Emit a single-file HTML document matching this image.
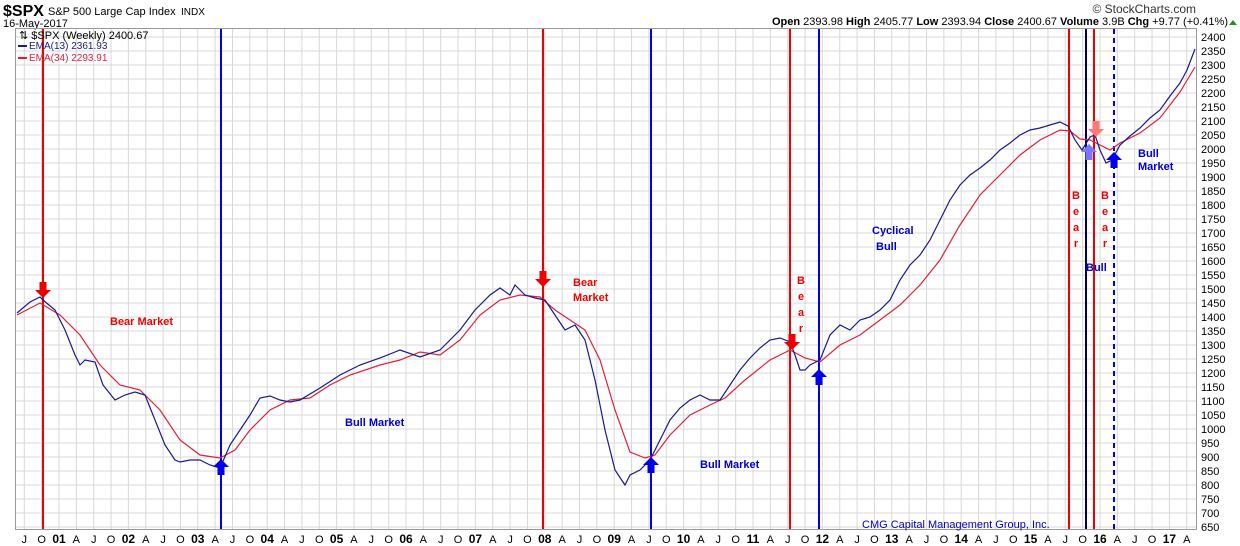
<!DOCTYPE html>
<html><head><meta charset="utf-8"><style>
body{margin:0;background:#fff;width:1240px;height:546px;overflow:hidden;font-family:"Liberation Sans",sans-serif}
svg{display:block}
</style></head><body>
<svg id="s" width="1240" height="546" xmlns="http://www.w3.org/2000/svg" font-family="Liberation Sans, sans-serif">
<text x="3" y="16" font-size="16" font-weight="bold">$SPX</text>
<text x="48" y="15" font-size="11">S&amp;P 500 Large Cap Index</text>
<text x="181" y="15" font-size="10">INDX</text>
<text x="3" y="27" font-size="11">16-May-2017</text>
<text x="1196" y="13" font-size="12" text-anchor="end" fill="#333">© StockCharts.com</text>
<text x="1228" y="25" font-size="11" text-anchor="end"><tspan font-weight="bold">Open</tspan> 2393.98  <tspan font-weight="bold">High</tspan> 2405.77  <tspan font-weight="bold">Low</tspan> 2393.94  <tspan font-weight="bold">Close</tspan> 2400.67  <tspan font-weight="bold">Volume</tspan> 3.9B  <tspan font-weight="bold">Chg</tspan> +9.77 (+0.41%)</text>
<polygon points="1229,25 1237,25 1233,20" fill="#2a8a2a"/>
<g id="grid"></g>
<rect x="15.5" y="28.5" width="1181" height="501" fill="none" stroke="#999"/>
<g id="vl"></g>
<polyline id="red" fill="none" stroke="#e0203a" stroke-width="1.2"/>
<polyline id="blue" fill="none" stroke="#1a1a8c" stroke-width="1.2"/>
<g id="ar"></g>
<text x="19" y="39" font-size="11">⇅ $SPX (Weekly) 2400.67</text>
<line x1="18" y1="46" x2="27" y2="46" stroke="#1a1a8c" stroke-width="2"/><text x="29" y="49" font-size="10" fill="#1a1a8c">EMA(13) 2361.93</text>
<line x1="18" y1="58" x2="27" y2="58" stroke="#e0203a" stroke-width="2"/><text x="29" y="61" font-size="10" fill="#e0203a">EMA(34) 2293.91</text>
<g font-size="11" font-weight="bold">
<text x="110" y="325" fill="#e00">Bear Market</text>
<text x="345" y="426" fill="#00c">Bull Market</text>
<text x="573" y="286" fill="#e00">Bear</text><text x="573" y="301" fill="#e00">Market</text>
<text x="700" y="468" fill="#00c">Bull Market</text>
<text x="872" y="234" fill="#00c">Cyclical</text><text x="876" y="250" fill="#00c">Bull</text>
<text x="1086" y="271" fill="#00c">Bull</text>
<text x="1138" y="157" fill="#00c">Bull</text><text x="1138" y="170" fill="#00c">Market</text>
<g fill="#e00" text-anchor="middle">
<text x="801" y="284">B</text><text x="801" y="300">e</text><text x="801" y="316">a</text><text x="801" y="332">r</text>
<text x="1076" y="199">B</text><text x="1076" y="215">e</text><text x="1076" y="231">a</text><text x="1076" y="247">r</text>
<text x="1105" y="199">B</text><text x="1105" y="215">e</text><text x="1105" y="231">a</text><text x="1105" y="247">r</text>
</g></g>
<text x="862" y="528" font-size="11" fill="#00c">CMG Capital Management Group, Inc.</text>
<g id="lab" font-size="11"></g>
</svg>
<script>
const NS="http://www.w3.org/2000/svg";
function el(p,t,a,tx){const e=document.createElementNS(NS,t);for(const k in a)e.setAttribute(k,a[k]);if(tx!==undefined)e.textContent=tx;document.getElementById(p).appendChild(e);return e;}
const Y=v=>37+(2400-v)/50*14;
for(let v=650;v<=2400;v+=50){const y=Y(v);el('grid','line',{x1:15,x2:1197,y1:y,y2:y,stroke:'#d8d8d8'});el('lab','text',{x:1201,y:y+4},v);}
const X=yr=>59+(yr-2001)*69.4;
const ql=['A','J','O'];
for(let yr=2000;yr<=2017;yr++){for(let q=0;q<4;q++){const x=X(yr+q*0.25);if(x<16||x>1196)continue;
el('grid','line',{x1:x,x2:x,y1:29,y2:529,stroke:'#d8d8d8'});
const lb=q==0?String(yr%100).padStart(2,'0'):ql[q-1];
el('lab','text',{x:x,y:543,'text-anchor':'middle','font-weight':q==0?'bold':'normal','font-size':q==0?12:11},lb);}}
const vls=[[43,'#e00'],[543,'#e00'],[790,'#e00'],[1069,'#e00'],[1094,'#e00'],[221,'#00e'],[651,'#00e'],[819,'#00e'],[1086,'#000060']];
vls.forEach(([x,c])=>el('vl','line',{x1:x,x2:x,y1:29,y2:529,stroke:c,'stroke-width':2}));
el('vl','line',{x1:1114,x2:1114,y1:29,y2:529,stroke:'#00e','stroke-width':2,'stroke-dasharray':'5,4'});
const blue=[[17,313],[30,302],[40,297],[43,300],[55,310],[65,330],[75,355],[80,365],[85,360],[95,362],[103,385],[115,400],[125,395],[135,392],[145,395],[155,420],[165,445],[175,460],[180,462],[190,460],[200,460],[210,465],[220,468],[230,445],[240,430],[250,415],[260,398],[270,396],[280,400],[290,402],[300,400],[320,388],[340,375],[360,365],[380,358],[400,350],[420,357],[440,350],[460,330],[475,310],[490,295],[500,288],[510,295],[515,285],[525,295],[535,298],[545,300],[555,315],[565,330],[575,325],[585,340],[595,380],[605,430],[615,470],[625,485],[630,475],[640,470],[650,460],[660,440],[670,420],[680,408],[690,400],[700,395],[710,400],[720,400],[730,385],[740,370],[750,358],[760,348],[770,340],[780,338],[790,342],[795,355],[800,370],[805,370],[810,365],[820,360],[830,335],[840,325],[850,330],[860,320],[870,317],[880,310],[890,300],[900,280],[910,265],[920,255],[930,240],[940,220],[950,200],[960,185],[970,175],[980,168],[990,160],[1000,150],[1010,143],[1020,135],[1030,130],[1040,128],[1050,125],[1060,122],[1068,126],[1075,140],[1082,150],[1090,137],[1095,135],[1100,150],[1106,163],[1112,160],[1120,145],[1130,136],[1140,128],[1150,118],[1160,110],[1170,96],[1180,83],[1187,70],[1195,49]];
const red=[[17,315],[40,303],[60,315],[80,335],[100,365],[120,385],[140,390],[160,410],[180,440],[200,455],[220,458],[235,450],[250,430],[270,410],[290,400],[310,398],[330,385],[350,375],[380,365],[400,360],[420,352],[440,355],[460,340],[480,315],[500,300],[520,295],[540,297],[555,310],[570,320],[585,330],[600,360],[615,410],[630,452],[645,458],[655,455],[670,435],[690,415],[710,405],[725,398],[745,380],[770,360],[790,350],[805,358],[820,362],[840,345],[860,335],[880,320],[900,305],[920,285],[940,260],[960,225],[980,195],[1000,175],[1020,155],[1040,140],[1060,130],[1070,131],[1080,139],[1090,140],[1100,145],[1110,150],[1120,143],[1140,133],[1160,118],[1180,92],[1195,67]];
document.getElementById('blue').setAttribute('points',blue.map(p=>p.join(',')).join(' '));
document.getElementById('red').setAttribute('points',red.map(p=>p.join(',')).join(' '));
function down(x,y,c){el('ar','polygon',{points:`${x-3.5},${y} ${x+3.5},${y} ${x+3.5},${y+8} ${x+8},${y+8} ${x},${y+16} ${x-8},${y+8} ${x-3.5},${y+8}`,fill:c});}
function up(x,y,c){el('ar','polygon',{points:`${x},${y} ${x+8},${y+8} ${x+3.5},${y+8} ${x+3.5},${y+16} ${x-3.5},${y+16} ${x-3.5},${y+8} ${x-8},${y+8}`,fill:c});}
down(43,282,'#e00');down(543,271,'#e00');down(792,334,'#e00');down(1096,121,'#f77');
up(221,459,'#00e');up(651,457,'#00e');up(819,369,'#00e');up(1089,144,'#77f');up(1114,152,'#00e');
</script>
</body></html>
